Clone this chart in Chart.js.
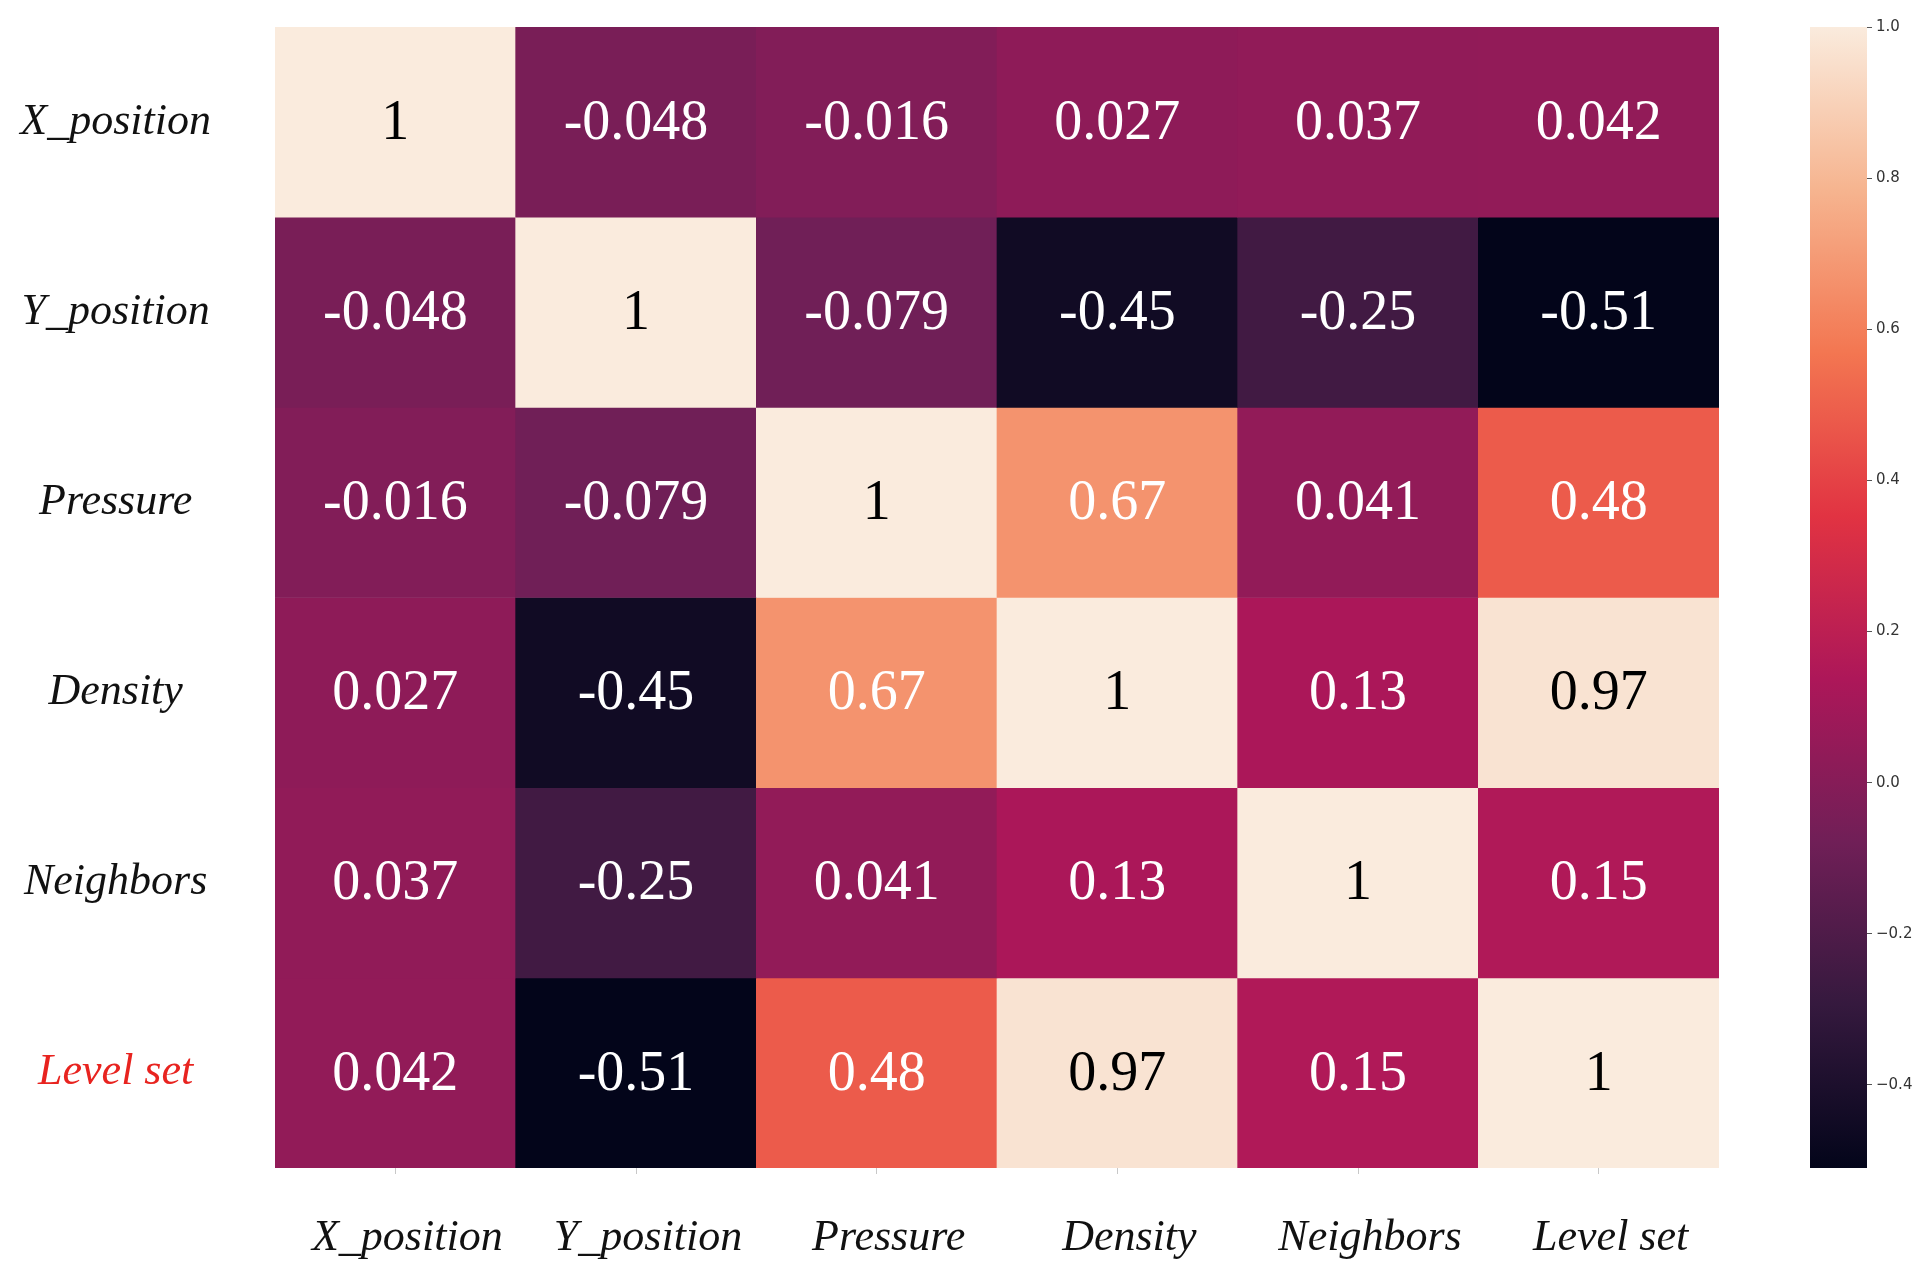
<!DOCTYPE html>
<html lang="en">
<head>
<meta charset="UTF-8">
<title>Correlation heatmap</title>
<script src="https://cdn.jsdelivr.net/npm/chart.js"></script>
<style>
    body { margin: 0; background: #fff; }
    #wrap { position: relative; width: 1928px; height: 1279px; }
    #heat { position: absolute; left: 0; top: 0; }
    #cbar { position: absolute; left: 1780px; top: 0; }
</style>
</head>
<body>
<div id="wrap">
    <canvas id="heat" width="1780" height="1279"></canvas>
    <canvas id="cbar" width="148" height="1279"></canvas>
</div>
<script>
    // variables (same order on both axes)
    const variables = ['X_position', 'Y_position', 'Pressure', 'Density', 'Neighbors', 'Level set'];

    // correlation rows, top to bottom
    const rowX        = [1, -0.048, -0.016, 0.027, 0.037, 0.042];
    const rowY        = [-0.048, 1, -0.079, -0.45, -0.25, -0.51];
    const rowPressure = [-0.016, -0.079, 1, 0.67, 0.041, 0.48];
    const rowDensity  = [0.027, -0.45, 0.67, 1, 0.13, 0.97];
    const rowNeighbor = [0.037, -0.25, 0.041, 0.13, 1, 0.15];
    const rowLevelSet = [0.042, -0.51, 0.48, 0.97, 0.15, 1];
    const rows = [rowX, rowY, rowPressure, rowDensity, rowNeighbor, rowLevelSet];

    const colorbarTicks = [-0.4, -0.2, 0.0, 0.2, 0.4, 0.6, 0.8, 1.0];
    const vmin = -0.51, vmax = 1.0;

    // seaborn "rocket" colormap, approximated
    const rocket = [
        [0.000, [3, 5, 26]],
        [0.143, [53, 25, 62]],
        [0.286, [112, 31, 87]],
        [0.429, [173, 23, 89]],
        [0.571, [225, 51, 66]],
        [0.714, [243, 118, 81]],
        [0.857, [246, 180, 143]],
        [1.000, [250, 235, 221]]
    ];

    function colorFor(v) {
        let t = (v - vmin) / (vmax - vmin);
        t = Math.max(0, Math.min(1, t));
        for (let i = 1; i < rocket.length; i++) {
            if (t <= rocket[i][0]) {
                const [t0, c0] = rocket[i - 1];
                const [t1, c1] = rocket[i];
                const f = (t - t0) / (t1 - t0);
                const c = c0.map((a, k) => Math.round(a + (c1[k] - a) * f));
                return `rgb(${c[0]},${c[1]},${c[2]})`;
            }
        }
        return 'rgb(250,235,221)';
    }

    const labelFont = { family: '"Liberation Serif", serif', style: 'italic', size: 44 };

    // write the value in each cell
    const cellText = {
        id: 'cellText',
        afterDatasetsDraw(chart) {
            const ctx = chart.ctx;
            ctx.save();
            ctx.font = '56px "Liberation Serif", serif';
            ctx.textAlign = 'center';
            ctx.textBaseline = 'middle';
            rows.forEach((row, r) => {
                chart.getDatasetMeta(r).data.forEach((bar, c) => {
                    const v = row[c];
                    const p = bar.getCenterPoint();
                    ctx.fillStyle = v > 0.85 ? '#000' : '#fff';
                    ctx.fillText(String(v), p.x, p.y + 2);
                });
            });
            ctx.restore();
        }
    };

    new Chart(document.getElementById('heat'), {
        type: 'bar',
        data: {
            labels: variables,
            datasets: rows.map((row, r) => ({
                data: variables.map(() => [5 - r, 6 - r]),
                backgroundColor: row.map(colorFor),
                borderWidth: 0,
                grouped: false,
                barPercentage: 1,
                categoryPercentage: 1
            }))
        },
        options: {
            responsive: false,
            animation: false,
            layout: { padding: { left: 0, top: 27, right: 61, bottom: 0 } },
            plugins: { legend: { display: false }, tooltip: { enabled: false } },
            scales: {
                x: {
                    grid: { display: true, drawOnChartArea: false, drawTicks: true, tickLength: 6, offset: false, color: '#c8c8c8' },
                    border: { display: false },
                    ticks: { font: labelFont, color: '#111', padding: 38, labelOffset: 12, maxRotation: 0, autoSkip: false },
                    afterFit(scale) {
                        scale.height = 111;
                        scale.paddingLeft = 0;
                        scale.paddingRight = 0;
                    }
                },
                y: {
                    min: 0,
                    max: 6,
                    grid: { display: false },
                    border: { display: false },
                    afterBuildTicks(scale) {
                        scale.ticks = variables.map((_, i) => ({ value: i + 0.5 }));
                    },
                    ticks: {
                        font: labelFont,
                        crossAlign: 'center',
                        padding: 56,
                        autoSkip: false,
                        color: (c) => (c.tick && c.tick.value === 0.5 ? '#e8231f' : '#111'),
                        callback: (value) => variables[Math.round(5.5 - value)]
                    },
                    afterFit(scale) {
                        scale.width = 275;
                        scale.paddingTop = 0;
                        scale.paddingBottom = 0;
                    }
                }
            }
        },
        plugins: [cellText]
    });

    // colour bar
    new Chart(document.getElementById('cbar'), {
        type: 'bar',
        data: {
            labels: ['cb'],
            datasets: [{
                data: [[vmin, vmax]],
                borderWidth: 0,
                barPercentage: 1,
                categoryPercentage: 1,
                backgroundColor(context) {
                    const area = context.chart.chartArea;
                    if (!area) return null;
                    const g = context.chart.ctx.createLinearGradient(0, area.bottom, 0, area.top);
                    rocket.forEach(([t, c]) => g.addColorStop(t, `rgb(${c[0]},${c[1]},${c[2]})`));
                    return g;
                }
            }]
        },
        options: {
            responsive: false,
            animation: false,
            layout: { padding: { left: 30, top: 27, right: 0, bottom: 111 } },
            plugins: { legend: { display: false }, tooltip: { enabled: false } },
            scales: {
                x: { display: false },
                y: {
                    position: 'right',
                    min: vmin,
                    max: vmax,
                    grid: { display: true, drawOnChartArea: false, tickLength: 5, color: '#555' },
                    border: { display: false },
                    afterBuildTicks(scale) {
                        scale.ticks = colorbarTicks.map(v => ({ value: v }));
                    },
                    ticks: {
                        font: { family: '"DejaVu Sans", sans-serif', size: 15 },
                        color: '#333',
                        padding: 4,
                        callback: (v) => (v < 0 ? '\u2212' : '') + Math.abs(v).toFixed(1)
                    },
                    afterFit(scale) {
                        scale.width = 61;
                        scale.paddingTop = 0;
                        scale.paddingBottom = 0;
                    }
                }
            }
        }
    });
</script>
</body>
</html>
